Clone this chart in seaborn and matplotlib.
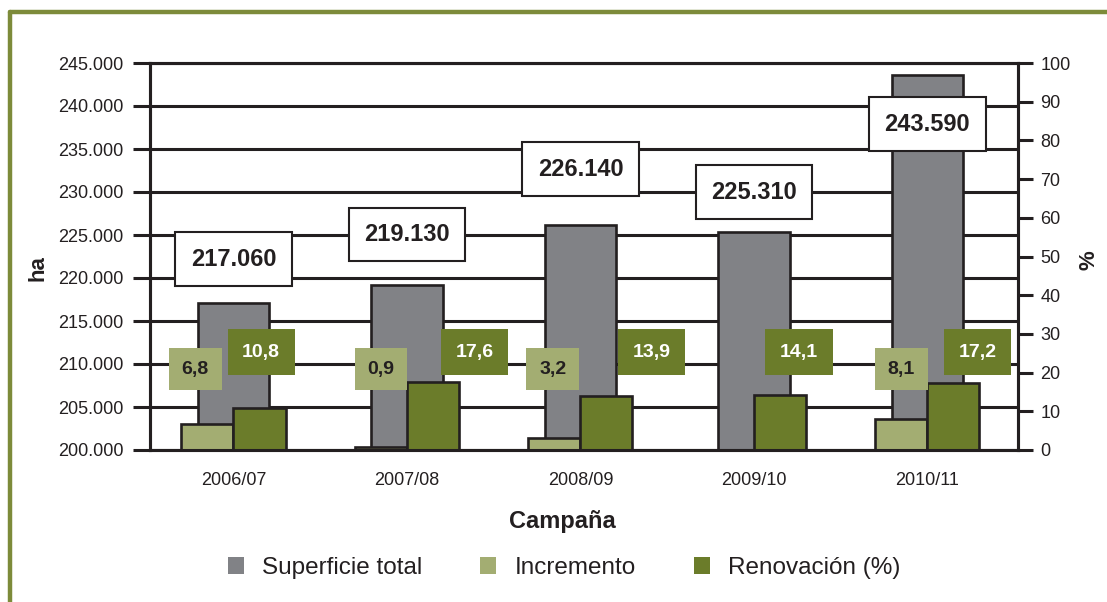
import numpy as np
import pandas as pd
import matplotlib
matplotlib.use("Agg")
import matplotlib.pyplot as plt
import seaborn as sns
from matplotlib.lines import Line2D
from matplotlib.patches import Patch
from matplotlib.ticker import FuncFormatter, MultipleLocator


campanas = ["2006/07", "2007/08", "2008/09", "2009/10", "2010/11"]
superficie = [217060, 219130, 226140, 225310, 243590]
incremento = [6.8, 0.9, 3.2, np.nan, 8.1]
renovacion = [10.8, 17.6, 13.9, 14.1, 17.2]

GREY = "#818286"
LIGHT = "#a3ad72"
DARK = "#6b7c2a"
INK = "#231f20"
FRAME = "#7d8b3a"

# label placement (pixels at dpi 100): offset of total box above bar top,
# and x offsets (category units) of the green value boxes
total_dy = [44, 51, 56, 40, -49]
light_dx = [-0.22, -0.15, -0.16, 0.0, -0.15]
dark_dx = [0.16, 0.39, 0.41, 0.26, 0.29]

sns.set_theme(style="white")
plt.rcParams["font.family"] = ["Liberation Sans", "DejaVu Sans"]

fig = plt.figure(figsize=(11.07, 6.02), dpi=100)
ax = fig.add_axes([150 / 1107, 1 - 450 / 602, 868 / 1107, 387 / 602])

sns.barplot(x=campanas, y=superficie, ax=ax, color=GREY, width=0.41,
            saturation=1, edgecolor=INK, linewidth=1.9, zorder=2)
ax.set_ylim(200000, 245000)
ax.yaxis.set_major_locator(MultipleLocator(5000))
ax.yaxis.set_major_formatter(FuncFormatter(lambda v, p: f"{int(v):,}".replace(",", ".")))
ax.grid(axis="y", color=INK, linewidth=2.2)
ax.set_axisbelow(True)

ax2 = ax.twinx()
long_df = pd.DataFrame({
    "campana": campanas * 2,
    "serie": ["Incremento"] * 5 + ["Renovación (%)"] * 5,
    "valor": incremento + renovacion,
}).dropna()
sns.barplot(data=long_df, x="campana", y="valor", hue="serie", order=campanas,
            hue_order=["Incremento", "Renovación (%)"],
            palette={"Incremento": LIGHT, "Renovación (%)": DARK},
            width=0.6, saturation=1, edgecolor=INK, linewidth=1.9,
            ax=ax2, legend=False)
ax2.set_ylim(0, 100)
ax2.yaxis.set_major_locator(MultipleLocator(10))
ax2.set_ylabel("")
ax.set_xlim(-0.481, 4.522)
ax2.set_xlim(-0.481, 4.522)

for a in (ax, ax2):
    for s in a.spines.values():
        s.set_color(INK)
        s.set_linewidth(2.2)

ax.tick_params(axis="y", direction="out", length=12, width=2.2, color=INK,
               pad=7, labelsize=13, labelcolor=INK, left=True)
ax2.tick_params(axis="y", direction="out", length=11, width=2.2, color=INK,
                pad=5, labelsize=13, labelcolor=INK, right=True)
ax.tick_params(axis="x", length=0, pad=16, labelsize=13, labelcolor=INK)

ax.set_ylabel("ha", fontsize=16, fontweight="bold", color=INK)
ax.yaxis.set_label_coords(-0.1175, 0.47)
ax2.set_ylabel("%", fontsize=16, fontweight="bold", color=INK)
ax2.yaxis.set_label_coords(1.070, 0.49)
ax.set_xlabel("Campaña", fontsize=17, fontweight="bold", color=INK)
ax.xaxis.set_label_coords(0.4747, -0.155)

# total area boxes
for i, v in enumerate(superficie):
    ax2.annotate(f"{v:,}".replace(",", "."), xy=(i, v), xycoords=ax.transData,
                 xytext=(0, total_dy[i] * 0.72), textcoords="offset points",
                 ha="center", va="center", fontsize=17, fontweight="bold",
                 color=INK, zorder=5,
                 bbox=dict(boxstyle="square,pad=0.65", fc="white", ec=INK, lw=1.5))

# green value boxes
for i, v in enumerate(incremento):
    if np.isnan(v):
        continue
    ax2.text(i + light_dx[i], 20.9, f"{v:.1f}".replace(".", ","), ha="center",
             va="center", fontsize=14, fontweight="bold", color=INK, zorder=5,
             bbox=dict(boxstyle="square,pad=0.65", fc=LIGHT, ec="none"))
for i, v in enumerate(renovacion):
    ax2.text(i + dark_dx[i], 25.3, f"{v:.1f}".replace(".", ","), ha="center",
             va="center", fontsize=14, fontweight="bold", color="white", zorder=5,
             bbox=dict(boxstyle="square,pad=0.75", fc=DARK, ec="none"))

handles = [Patch(facecolor=GREY, edgecolor="none", label="Superficie total"),
           Patch(facecolor=LIGHT, edgecolor="none", label="Incremento"),
           Patch(facecolor=DARK, edgecolor="none", label="Renovación (%)")]
fig.legend(handles=handles, loc="center", bbox_to_anchor=(0.5095, 0.0565),
           ncol=3, frameon=False, fontsize=17.5, handlelength=0.65,
           handleheight=0.65, handletextpad=0.75, columnspacing=2.4,
           labelcolor=INK)

# olive frame on top and left
fig.add_artist(Line2D([10 / 1107, 10 / 1107], [0, 1 - 12 / 602],
                      transform=fig.transFigure, color=FRAME, lw=3.2))
fig.add_artist(Line2D([10 / 1107, 1], [1 - 12 / 602, 1 - 12 / 602],
                      transform=fig.transFigure, color=FRAME, lw=3.2))

fig.savefig("out.png", dpi=100)
